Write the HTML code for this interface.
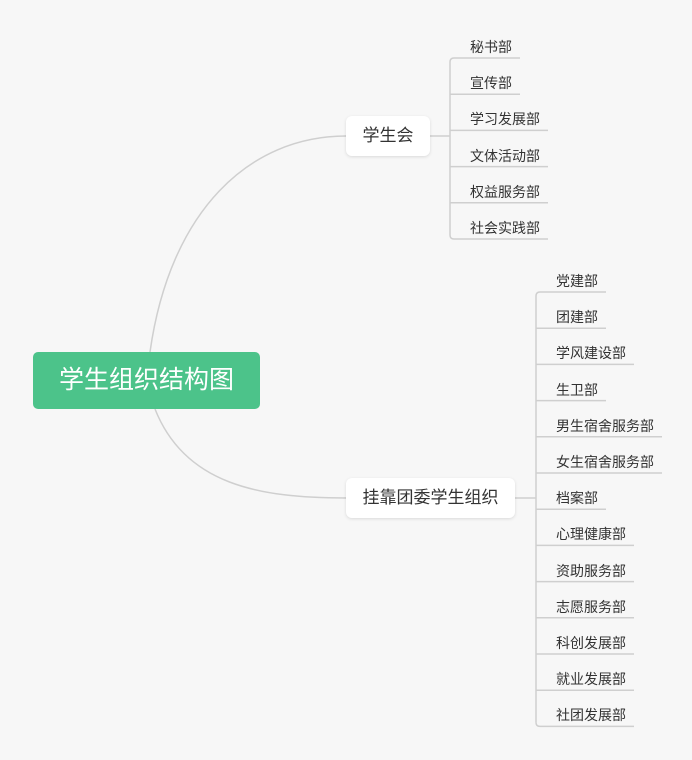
<!DOCTYPE html>
<html><head><meta charset="utf-8"><style>
body{margin:0;width:692px;height:760px;background:#f7f7f7;position:relative;overflow:hidden;font-family:"Liberation Sans","Noto Sans CJK SC",sans-serif;}
.root{position:absolute;left:33px;top:352px;width:227px;height:57px;background:#4cc38a;border-radius:5px;color:#fff;font-size:25px;line-height:57px;text-align:center;}
.node{position:absolute;background:#fff;border-radius:6px;box-shadow:0 1px 3px rgba(0,0,0,0.12);color:#333;font-size:17px;text-align:center;}
.leaf{position:absolute;font-size:14px;color:#333;line-height:20px;white-space:nowrap;}
svg{position:absolute;left:0;top:0;}
</style></head><body>
<svg width="692" height="760" fill="none" stroke="#cfcfcf" stroke-width="1.5">
<path d="M150 352 C 170 210, 250 136, 346 136"/>
<path d="M155 409 C 185 485, 260 498, 346 498"/>
<path d="M430 136 H450"/>
<path d="M515 498 H536"/>
</svg>
<div class="root">学生组织结构图</div>
<div class="node" style="left:346px;top:116px;width:84px;height:40px;line-height:40px;">学生会</div>
<div class="node" style="left:346px;top:478px;width:169px;height:40px;line-height:40px;">挂靠团委学生组织</div>
<div id="leaves"></div>
<script>
var g1=["秘书部","宣传部","学习发展部","文体活动部","权益服务部","社会实践部"];
var g2=["党建部","团建部","学风建设部","生卫部","男生宿舍服务部","女生宿舍服务部","档案部","心理健康部","资助服务部","志愿服务部","科创发展部","就业发展部","社团发展部"];
var svg=document.querySelector('svg'),L=document.getElementById('leaves'),h='',s='';
function grp(arr,x,y0){
 var n=arr.length,first=y0+12,last=y0+12+36.2*(n-1);
 s+='<path d="M'+x+' '+(first+4)+' V'+(last-4)+'"/>';
 arr.forEach(function(t,i){
  var cy=y0+36.2*i, uy=cy+12, w=t.length*14+8;
  if(i==0) s+='<path d="M'+x+' '+(uy+4)+' Q'+x+' '+uy+' '+(x+4)+' '+uy+' H'+(x+20+w)+'"/>';
  else if(i==n-1) s+='<path d="M'+x+' '+(uy-4)+' Q'+x+' '+uy+' '+(x+4)+' '+uy+' H'+(x+20+w)+'"/>';
  else s+='<path d="M'+x+' '+uy+' H'+(x+20+w)+'"/>';
  h+='<div class="leaf" style="left:'+(x+20)+'px;top:'+(cy-9)+'px">'+t+'</div>';
 });
}
grp(g1,450,46);grp(g2,536,280);
svg.innerHTML+=s;L.innerHTML=h;
</script>
</body></html>
